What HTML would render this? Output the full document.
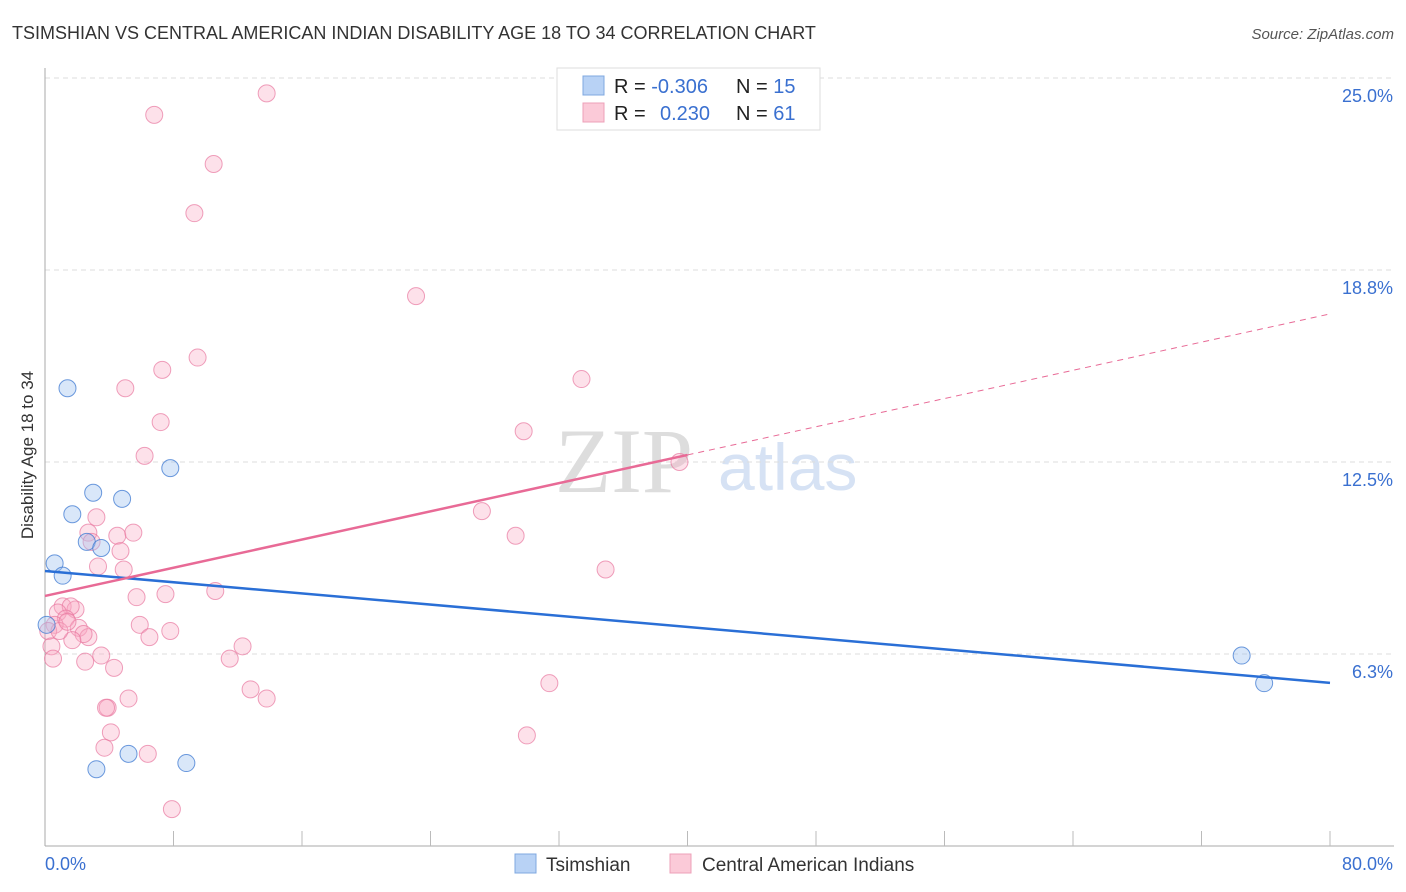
<!DOCTYPE html>
<html><head><meta charset="utf-8"><style>
body{margin:0;background:#fff;font-family:"Liberation Sans",sans-serif;}
#wrap{position:relative;width:1406px;height:892px;overflow:hidden;}
</style></head><body>
<div id="wrap">
<svg id="svg" width="1406" height="892" xmlns="http://www.w3.org/2000/svg">
<text x="12" y="39" font-size="18" fill="#333">TSIMSHIAN VS CENTRAL AMERICAN INDIAN DISABILITY AGE 18 TO 34 CORRELATION CHART</text>
<text x="1394" y="39" font-size="15" fill="#555" font-style="italic" text-anchor="end">Source: ZipAtlas.com</text>
<text transform="translate(33,455) rotate(-90)" font-size="17" fill="#333" text-anchor="middle">Disability Age 18 to 34</text>
<text x="555" y="492" font-size="92" fill="#ddd" font-family="Liberation Serif,serif">ZIP</text>
<text x="718" y="490" font-size="66" fill="#d6e2f4">atlas</text>
<g id="grid"></g><g id="marks"></g>
<g>
<rect x="557" y="68" width="263" height="62" fill="#fff" stroke="#ddd"/>
<rect x="583" y="76" width="21" height="19" fill="#b8d2f5" stroke="#7fa8e0"/>
<rect x="583" y="103" width="21" height="19" fill="#fbcad8" stroke="#eea0b8"/>
<text x="614" y="93" font-size="20" fill="#222">R = <tspan fill="#3a70d0">-0.306</tspan><tspan x="736">N = </tspan><tspan fill="#3a70d0">15</tspan></text>
<text x="614" y="120" font-size="20" fill="#222">R = <tspan x="660" fill="#3a70d0">0.230</tspan><tspan x="736">N = </tspan><tspan fill="#3a70d0">61</tspan></text>
</g>
<g>
<rect x="515" y="854" width="21" height="19" fill="#b8d2f5" stroke="#7fa8e0"/>
<text x="546" y="871" font-size="19" fill="#333">Tsimshian</text>
<rect x="670" y="854" width="21" height="19" fill="#fbcad8" stroke="#eea0b8"/>
<text x="702" y="871" font-size="19" fill="#333">Central American Indians</text>
</g>
</svg>
</div>
<script>
const yTicks=[6.25,12.5,18.75,25];
const yTickLabels=["6.3%","12.5%","18.8%","25.0%"];
const xTickLabels=["0.0%","80.0%"];
const tsimX=[1.4,0.6,1.1,1.7,3.0,2.6,3.5,4.8,7.8,3.2,5.2,8.8,74.5,75.9,0.1];
const tsimY=[14.9,9.2,8.8,10.8,11.5,9.9,9.7,11.3,12.3,2.5,3.0,2.7,6.2,5.3,7.2];
const camX=[13.8,6.8,10.5,9.3,23.1,9.5,7.3,5.0,33.4,7.2,29.8,6.2,39.5,27.2,3.2,29.3,2.7,4.5,5.5,2.9,4.7,3.3,4.9,34.9,10.6,5.7,7.5,1.1,1.9,1.6,0.8,1.3,0.6,2.1,0.2,5.9,7.8,2.7,2.4,6.5,1.7,0.4,12.3,0.5,2.5,3.5,4.3,11.5,31.4,12.8,13.8,5.2,3.9,3.8,30.0,4.1,3.7,6.4,7.9,0.9,1.4];
const camY=[24.5,23.8,22.2,20.6,17.9,15.9,15.5,14.9,15.2,13.8,13.5,12.7,12.5,10.9,10.7,10.1,10.2,10.1,10.2,9.9,9.6,9.1,9.0,9.0,8.3,8.1,8.2,7.8,7.7,7.8,7.6,7.4,7.2,7.1,7.0,7.2,7.0,6.8,6.9,6.8,6.7,6.5,6.5,6.1,6.0,6.2,5.8,6.1,5.3,5.1,4.8,4.8,4.5,4.5,3.6,3.7,3.2,3.0,1.2,7.0,7.3];
const blueLine=[8.95,5.31];
const pinkLine=[8.14,17.32];
const pinkSolidEnd=40;
const NS="http://www.w3.org/2000/svg";
const X=v=>45+v*(1285/80), Y=v=>846-v*(192/6.25);
function mk(t,a,p){const e=document.createElementNS(NS,t);for(const k in a)e.setAttribute(k,a[k]);p.appendChild(e);return e;}
const grid=document.getElementById('grid'),marks=document.getElementById('marks');
yTicks.forEach((t,i)=>{
 const l=mk('line',{x1:45,x2:1394,y1:Y(t),y2:Y(t),stroke:'#ddd','stroke-dasharray':'5,4'},grid);
 
 
 const tx=mk('text',{x:1393,y:Y(t)+24,'font-size':18,fill:'#3a70d0','text-anchor':'end'},grid);
 tx.textContent=yTickLabels[i];
 
 
});
const ax=mk('line',{x1:45,x2:45,y1:68,y2:846,stroke:'#aaa'},grid);


const bx=mk('line',{x1:45,x2:1394,y1:846,y2:846,stroke:'#aaa'},grid);


for(let i=1;i<=10;i++){const v=i*8;const tk=mk('line',{x1:X(v),x2:X(v),y1:831,y2:846,stroke:'#bbb'},grid);
 
 }
[[0,'start',45],[80,'end',1393]].forEach((d,i)=>{const t=mk('text',{x:d[2],y:870,'font-size':18,fill:'#3a70d0','text-anchor':d[1]},grid);t.textContent=xTickLabels[i];
 
 });
camX.forEach((x,i)=>{const c=mk('circle',{cx:X(x),cy:Y(camY[i]),r:8.5,fill:'rgba(248,170,195,0.35)',stroke:'rgba(232,120,160,0.7)','stroke-width':1},marks);
 
 });
tsimX.forEach((x,i)=>{const c=mk('circle',{cx:X(x),cy:Y(tsimY[i]),r:8.5,fill:'rgba(160,195,240,0.4)',stroke:'rgba(60,120,210,0.75)','stroke-width':1},marks);
 
 });
const pv=x=>pinkLine[0]+(pinkLine[1]-pinkLine[0])*x/80;
const bl=mk('line',{x1:X(0),y1:Y(blueLine[0]),x2:X(80),y2:Y(blueLine[1]),stroke:'#2a6fd6','stroke-width':2.5},marks);


const ps=mk('line',{x1:X(0),y1:Y(pv(0)),x2:X(pinkSolidEnd),y2:Y(pv(pinkSolidEnd)),stroke:'#e86a96','stroke-width':2.5},marks);


const pd=mk('line',{x1:X(pinkSolidEnd),y1:Y(pv(pinkSolidEnd)),x2:X(80),y2:Y(pv(80)),stroke:'#e86a96','stroke-width':1,'stroke-dasharray':'6,5'},marks);


</script>
</body></html>
